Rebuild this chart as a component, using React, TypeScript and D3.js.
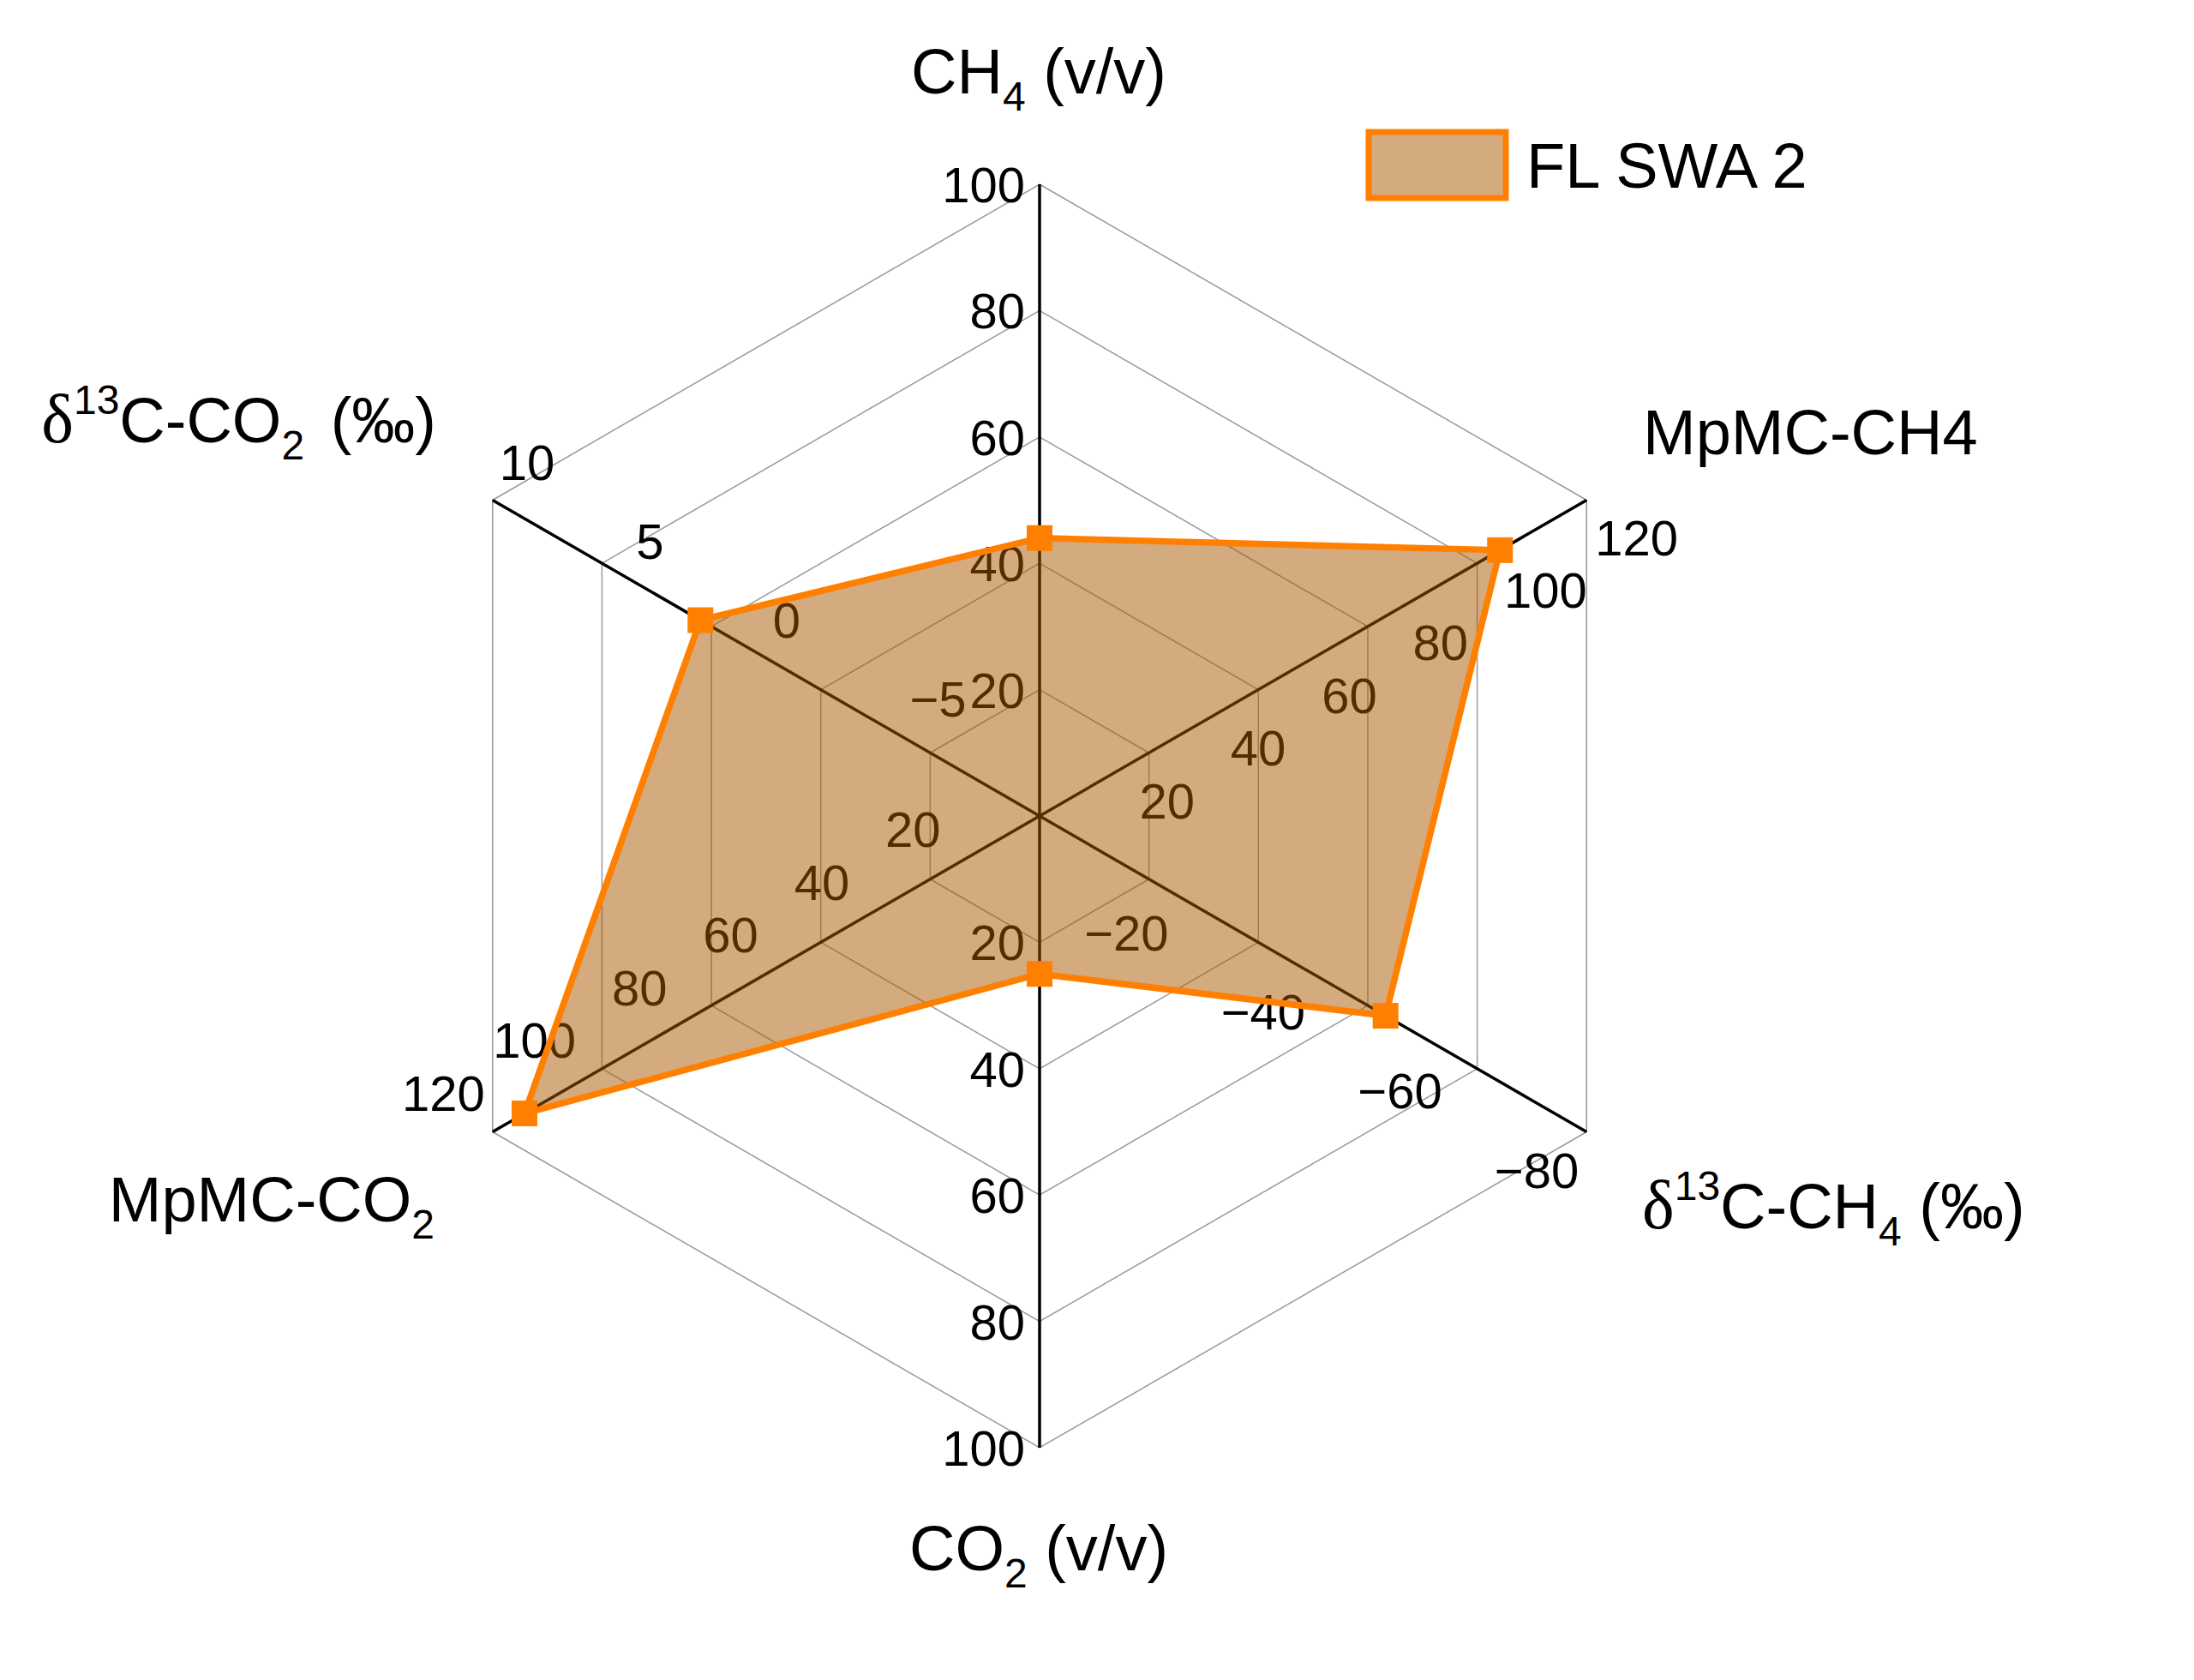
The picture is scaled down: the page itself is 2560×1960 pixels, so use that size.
import * as d3 from 'd3';
import { useEffect, useRef } from 'react';

// axes, clockwise from the top
const axisKeys = ['ch4', 'mpmcCh4', 'd13Ch4', 'co2', 'mpmcCo2', 'd13Co2'];
const axisDomains: [number, number][] = [
  [0, 100],
  [0, 120],
  [0, -80],
  [0, 100],
  [0, 120],
  [-10, 10],
];
const ticksCh4 = [20, 40, 60, 80, 100];
const ticksMpmcCh4 = [20, 40, 60, 80, 100, 120];
const ticksD13Ch4 = [-20, -40, -60, -80];
const ticksCo2 = [20, 40, 60, 80, 100];
const ticksMpmcCo2 = [20, 40, 60, 80, 100, 120];
const ticksD13Co2 = [-5, 0, 5, 10];
const axisTicks = [ticksCh4, ticksMpmcCh4, ticksD13Ch4, ticksCo2, ticksMpmcCo2, ticksD13Co2];

const seriesName = 'FL SWA 2';
const seriesValues = [44, 101, -50.6, 25, 113, 2.4];

const ringFractions = [0.2, 0.4, 0.6, 0.8, 1];

// axis titles: [text, kind]
type Part = [string, 'n' | 'sub' | 'sup' | 'delta' | 'gap'];
const titles: Part[][] = [
  [['CH', 'n'], ['4', 'sub'], [' (v/v)', 'n']],
  [['MpMC-CH4', 'n']],
  [['δ', 'delta'], ['13', 'sup'], ['C-CH', 'n'], ['4', 'sub'], [' (‰)', 'n']],
  [['CO', 'n'], ['2', 'sub'], [' (v/v)', 'n']],
  [['MpMC-CO', 'n'], ['2', 'sub']],
  [['δ', 'delta'], ['13', 'sup'], ['C-CO', 'n'], ['2', 'sub'], [' (‰)', 'gap']],
];

const W = 2560;
const H = 1960;
const CX = 1213;
const CY = 952;
const R = 737;
const ORANGE = '#ff8000';
const FILL = 'rgba(170, 85, 0, 0.5)';
const SANS = '"Liberation Sans", Arial, sans-serif';

// tick label placement per axis: dx, dy, anchor
const tickPlace: [number, number, string][] = [
  [-17, 21, 'end'],
  [10, 64, 'start'],
  [-9, 65, 'end'],
  [-17, 21, 'end'],
  [-9, -25, 'end'],
  [8, -24, 'start'],
];
const titlePlace: [number, number, string][] = [
  [1212, 109, 'middle'],
  [1917, 530, 'start'],
  [1916, 1433, 'start'],
  [1212, 1832, 'middle'],
  [507, 1425, 'end'],
  [509, 516, 'end'],
];

export default function App() {
  const ref = useRef<SVGSVGElement>(null);

  useEffect(() => {
    const svg = d3.select(ref.current);
    svg.selectAll('*').remove();

    const angles = axisKeys.map((_, i) => ((-90 + i * 60) * Math.PI) / 180);
    const scales = axisDomains.map((d) => d3.scaleLinear().domain(d).range([0, R]));
    const pt = (i: number, r: number): [number, number] => [
      CX + r * Math.cos(angles[i]),
      CY + r * Math.sin(angles[i]),
    ];

    const ring = d3.line().curve(d3.curveLinearClosed);

    // grid rings
    svg
      .append('g')
      .selectAll('path')
      .data(ringFractions)
      .enter()
      .append('path')
      .attr('d', (f) => ring(angles.map((_, i) => pt(i, f * R))))
      .style('fill', 'none')
      .style('stroke', '#999')
      .style('stroke-width', 1.5);

    // axis spokes
    svg
      .append('g')
      .selectAll('line')
      .data(angles)
      .enter()
      .append('line')
      .attr('x1', CX)
      .attr('y1', CY)
      .attr('x2', (_, i) => pt(i, R)[0])
      .attr('y2', (_, i) => pt(i, R)[1])
      .style('stroke', 'black')
      .style('stroke-width', 3.5);

    // tick labels
    const fmt = (v: number) => String(v).replace('-', '\u2212');
    axisTicks.forEach((ticks, i) => {
      const [dx, dy, anchor] = tickPlace[i];
      svg
        .append('g')
        .selectAll('text')
        .data(ticks)
        .enter()
        .append('text')
        .attr('x', (v) => pt(i, scales[i](v))[0] + dx)
        .attr('y', (v) => pt(i, scales[i](v))[1] + dy)
        .style('text-anchor', anchor)
        .style('font-family', SANS)
        .style('font-size', '58px')
        .style('fill', 'black')
        .text((v) => fmt(v));
    });

    // axis titles
    titles.forEach((parts, i) => {
      const [x, y, anchor] = titlePlace[i];
      const t = svg
        .append('text')
        .attr('x', x)
        .attr('y', y)
        .style('text-anchor', anchor)
        .style('white-space', 'pre')
        .style('font-family', SANS)
        .style('font-size', '74px')
        .style('fill', 'black');
      let shift = 0;
      parts.forEach(([s, kind]) => {
        const span = t.append('tspan').text(s);
        let target = 0;
        if (kind === 'sub') {
          target = 20;
          span.style('font-size', '48px');
        } else if (kind === 'sup') {
          target = -33;
          span.style('font-size', '48px');
        } else if (kind === 'delta') {
          span
            .style('font-family', '"Liberation Serif", "Times New Roman", serif')
            .style('font-size', '80px');
        } else if (kind === 'gap') {
          span.attr('dx', 10);
        }
        if (target !== shift) span.attr('dy', target - shift);
        shift = target;
      });
    });

    // series polygon
    const pts = seriesValues.map((v, i) => pt(i, scales[i](v)));
    svg
      .append('path')
      .attr('d', ring(pts))
      .style('fill', FILL)
      .style('stroke', ORANGE)
      .style('stroke-width', 7.5)
      .style('stroke-linejoin', 'miter');

    svg
      .append('g')
      .selectAll('rect')
      .data(pts)
      .enter()
      .append('rect')
      .attr('x', (d) => d[0] - 15)
      .attr('y', (d) => d[1] - 15)
      .attr('width', 30)
      .attr('height', 30)
      .style('fill', ORANGE);

    // legend
    const legend = svg.append('g');
    legend
      .append('rect')
      .attr('x', 1597)
      .attr('y', 154)
      .attr('width', 160)
      .attr('height', 77)
      .style('fill', FILL)
      .style('stroke', ORANGE)
      .style('stroke-width', 7);
    legend
      .append('text')
      .attr('x', 1781)
      .attr('y', 219)
      .style('font-family', SANS)
      .style('font-size', '74px')
      .style('fill', 'black')
      .text(seriesName);
  }, []);

  return (
    <svg
      ref={ref}
      width={W}
      height={H}
      style={{ position: 'absolute', left: 0, top: 0, background: 'white' }}
    />
  );
}
